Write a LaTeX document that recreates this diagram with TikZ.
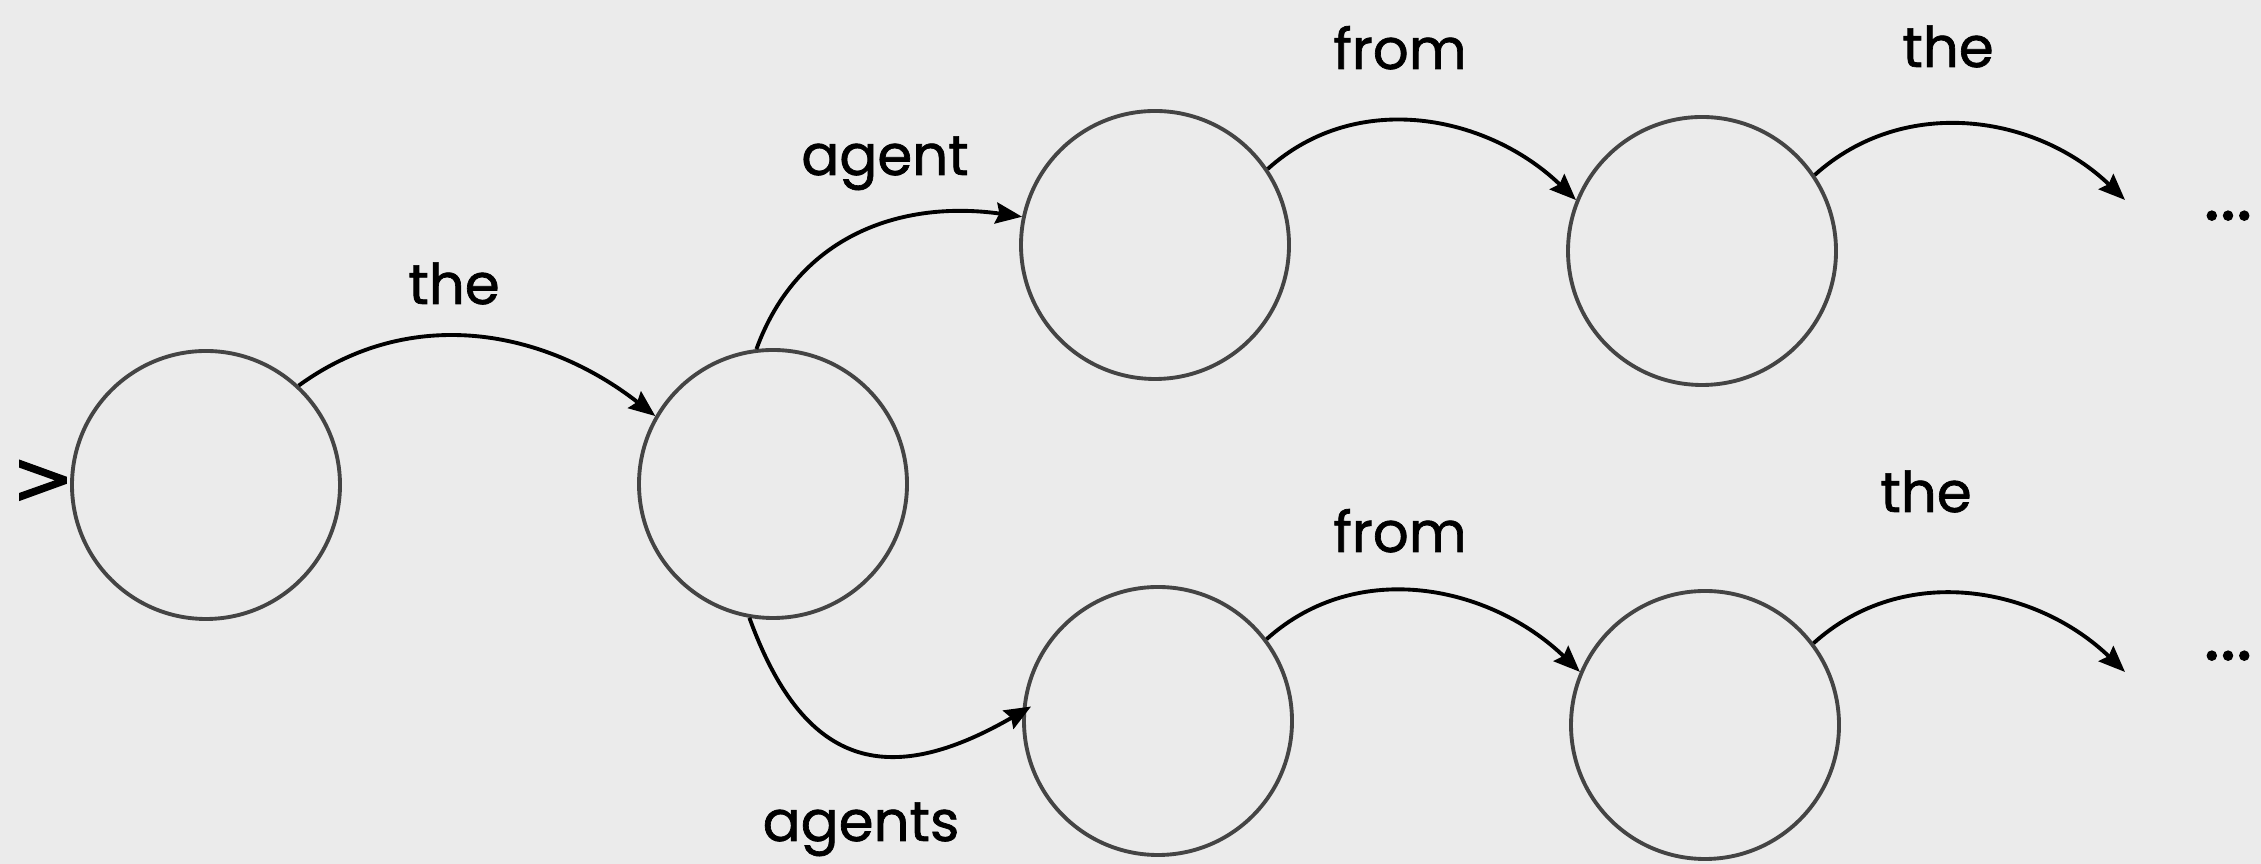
\documentclass[tikz,border=0pt]{standalone}
\usepackage{fontspec}
\setmainfont{Poppins}[FakeBold=1.2]
\newfontfamily\symfont{DejaVu Sans}[FakeBold=2]
\usepackage{xcolor}
\usepackage{tikz}
\usetikzlibrary{arrows.meta}

\definecolor{bgcol}{RGB}{235,235,235}
\definecolor{ringcol}{RGB}{68,68,68}

\begin{document}
\begin{tikzpicture}[>=Stealth, thick]

\tikzset{
    state/.style={circle, minimum size=2.68cm, inner sep=0pt, draw=ringcol, line width=1.1pt},
    edge/.style={-{Stealth[length=7.5pt, width=6pt, inset=1pt]}, line width=1.1pt, black},
    word/.style={font=\fontsize{16}{19}\selectfont, inner sep=0pt, anchor=base},
    dots/.style={font=\fontsize{22}{26}\selectfont, inner sep=0pt, anchor=base}
}

% ── 背景 ──
\fill[bgcol] (0,0) rectangle (22.61,8.64);
\useasboundingbox (0,0) rectangle (22.61,8.64);

% ── 状态 ──
\node[state] (s0)  at (2.06, 3.79)  {};
\node[state] (s1)  at (7.73, 3.80)  {};
\node[state] (s2a) at (11.55, 6.19) {};
\node[state] (s3a) at (17.02, 6.13) {};
\node[state] (s2b) at (11.58, 1.43) {};
\node[state] (s3b) at (17.05, 1.39) {};

\node[font=\symfont\fontsize{21}{26}\selectfont, inner sep=0pt] (start) at (0.43, 3.82) {>};

\coordinate (e1) at (21.25, 6.64);
\coordinate (e2) at (21.25, 1.92);

\node[dots] (dots1) at (22.28, 6.44) {...};
\node[dots] (dots2) at (22.28, 2.04) {...};

% ── 边 ──
\draw[edge] (s0.47)  to[out=36, in=142] (s1.150);
\draw[edge] (s1.97)  to[out=70, in=172, looseness=1.05] (s2a.168);
\draw[edge, shorten >=-1mm] (s1.260) to[out=-70, in=210, looseness=1.4] (s2b.176);
\draw[edge] (s2a.34) to[out=42, in=136] (s3a.158);
\draw[edge] (s3a.34) to[out=42, in=136] (e1);
\draw[edge] (s2b.37) to[out=42, in=136] (s3b.157);
\draw[edge] (s3b.37) to[out=42, in=136] (e2);

% ── 标签 ──
\node[word] (l1) at (4.54, 5.60)  {the};
\node[word] (l2) at (8.85, 6.89)  {agent};
\node[word] (l3) at (8.61, 0.23)  {agents};
\node[word] (l4) at (14.00, 7.95) {from};
\node[word] (l5) at (19.48, 7.97) {the};
\node[word] (l6) at (14.00, 3.12) {from};
\node[word] (l7) at (19.26, 3.52) {the};

\end{tikzpicture}
\end{document}
